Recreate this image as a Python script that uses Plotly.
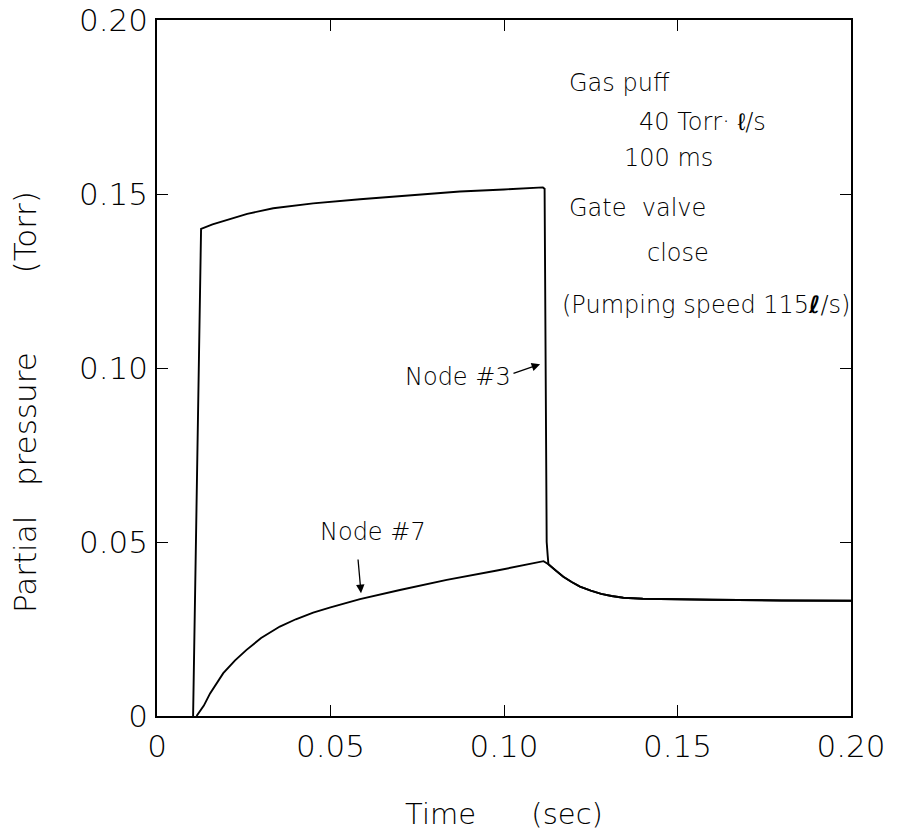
import plotly.graph_objects as go

# ---- data ----
node3_t = [0.0104, 0.0127, 0.0160, 0.0200, 0.0260, 0.0335, 0.0450, 0.0585, 0.0730, 0.0873, 0.1000, 0.1112,
           0.1117, 0.1119, 0.1121, 0.1123, 0.1126, 0.1128,
           0.1150, 0.1171, 0.1195, 0.1219, 0.1250, 0.1280, 0.1310, 0.1344, 0.1400, 0.1454, 0.1600, 0.1800, 0.2000]
node3_p = [0.0, 0.1400, 0.1413, 0.1425, 0.1443, 0.1459, 0.1473, 0.1485, 0.1497, 0.1507, 0.1513, 0.1519,
           0.1515, 0.1000, 0.0600, 0.0500, 0.0460, 0.0436,
           0.0417, 0.0400, 0.0385, 0.0372, 0.0360, 0.0351, 0.0345, 0.0340, 0.0337, 0.0336, 0.0334, 0.0332, 0.0331]

node7_t = [0.0114, 0.0135, 0.0153, 0.0191, 0.0225, 0.0258, 0.0300, 0.0354, 0.0400, 0.0450, 0.0500, 0.0585,
           0.0700, 0.0835, 0.0980, 0.1114,
           0.1128, 0.1150, 0.1171, 0.1195, 0.1219, 0.1250, 0.1280, 0.1310, 0.1344, 0.1400, 0.1454, 0.1600,
           0.1800, 0.2000]
node7_p = [0.0, 0.0030, 0.0065, 0.0123, 0.0160, 0.0190, 0.0224, 0.0257, 0.0278, 0.0297, 0.0312, 0.0336,
           0.0362, 0.0391, 0.0418, 0.0445,
           0.0436, 0.0417, 0.0400, 0.0385, 0.0372, 0.0360, 0.0351, 0.0345, 0.0340, 0.0337, 0.0336, 0.0334,
           0.0332, 0.0331]

x_ticks = [0, 0.05, 0.10, 0.15, 0.20]
x_tick_labels = ["0", "0.05", "0.10", "0.15", "0.20"]
y_ticks = [0, 0.05, 0.10, 0.15, 0.20]
y_tick_labels = ["0", "0.05", "0.10", "0.15", "0.20"]

FONT = "DejaVu Sans, Liberation Sans, sans-serif"
NB = "\u00a0"

fig = go.Figure()
fig.add_trace(go.Scatter(x=node3_t, y=node3_p, mode="lines", name="Node #3",
                         line=dict(color="black", width=1.9)))
fig.add_trace(go.Scatter(x=node7_t, y=node7_p, mode="lines", name="Node #7",
                         line=dict(color="black", width=1.9)))

axis_common = dict(showgrid=False, zeroline=False, showline=True, linecolor="black", linewidth=1.7,
                   mirror="ticks", ticks="inside", ticklen=11, tickwidth=1.4, tickcolor="black",
                   automargin=False,
                   tickfont=dict(family=FONT, size=31, color="black", weight=300))

fig.update_xaxes(range=[0, 0.20], tickvals=x_ticks, ticktext=x_tick_labels,
                 ticklabelstandoff=2,
                 title=dict(text=NB * 3 + "Time" + NB * 6 + "(sec)", standoff=41,
                            font=dict(family=FONT, size=29, color="black", weight=300)),
                 **axis_common)
fig.update_yaxes(range=[0, 0.20], tickvals=y_ticks, ticktext=y_tick_labels,
                 ticklabelstandoff=1, **axis_common)

# y-axis title (placed as rotated text to the left of the axis)
fig.add_annotation(text="Partial" + NB * 3 + "pressure" + NB * 8 + "(Torr)",
                   xref="paper", yref="paper", x=0, y=0.451, xshift=-132,
                   textangle=-90, showarrow=False, xanchor="center", yanchor="middle",
                   font=dict(family=FONT, size=31, color="black", weight=300))

ann_font = dict(family=FONT, size=24, color="black", weight=300)
texts = [
    ("Gas" + NB + "puff", 0.1182, 0.1819),
    ("40 Torr\u00b7 \u2113/s", 0.1383, 0.1707),
    ("100 ms", 0.1340, 0.1603),
    ("Gate" + NB * 2 + "valve", 0.1182, 0.1460),
    ("close", 0.1406, 0.1330),
    ("(Pumping speed 115<b><i>\u2113</i></b>/s)", 0.1160, 0.1181),
    ("Node #3", 0.0709, 0.0974),
    ("Node #7", 0.0464, 0.0529),
]
for t, x, y in texts:
    fig.add_annotation(x=x, y=y, xref="x", yref="y", text=t, showarrow=False,
                       xanchor="left", yanchor="middle", font=ann_font)

# arrows
fig.add_annotation(x=0.1104, y=0.1011, ax=0.1023, ay=0.0983, xref="x", yref="y", axref="x", ayref="y",
                   text="", showarrow=True, arrowhead=2, arrowsize=1.3, arrowwidth=1.3, arrowcolor="black")
fig.add_annotation(x=0.0588, y=0.0353, ax=0.0579, ay=0.0454, xref="x", yref="y", axref="x", ayref="y",
                   text="", showarrow=True, arrowhead=2, arrowsize=1.3, arrowwidth=1.3, arrowcolor="black")

fig.update_layout(width=899, height=831, margin=dict(l=157, r=48, t=20, b=115),
                  plot_bgcolor="white", paper_bgcolor="white", showlegend=False,
                  font=dict(family=FONT, color="black"))

fig.write_html("out.html")
